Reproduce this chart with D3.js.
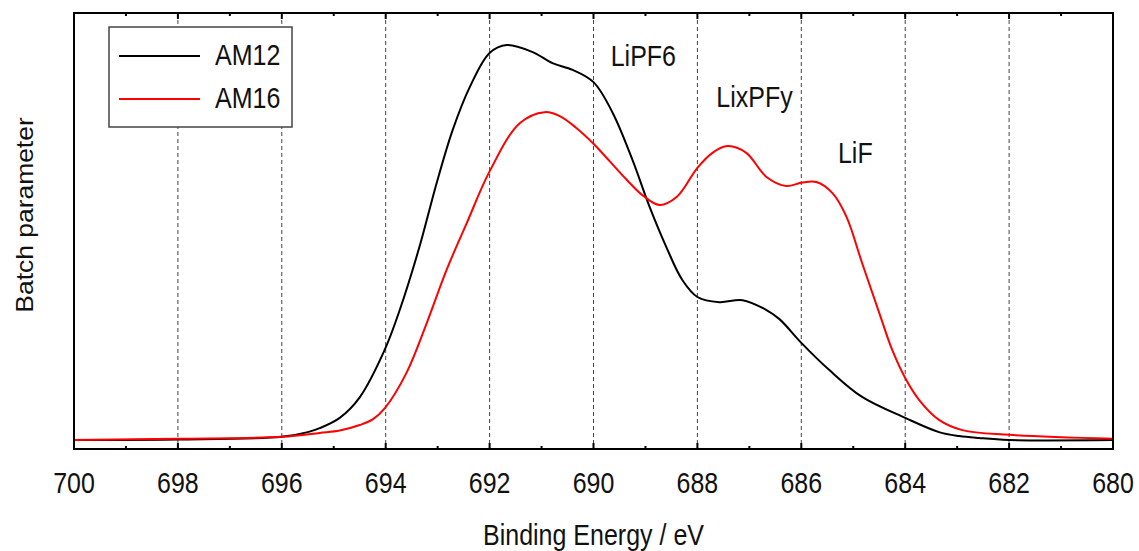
<!DOCTYPE html>
<html>
<head>
<meta charset="utf-8">
<script src="https://cdn.jsdelivr.net/npm/d3@7"></script>
<style>
  body { margin: 0; background: #fff; }
  text { font-family: "Liberation Sans", Arial, Helvetica, sans-serif; fill: #111; }
</style>
</head>
<body>
<svg id="chart" width="1139" height="551"></svg>
<script>
// F 1s spectra, binding energy (eV) vs. normalised intensity
const energyAM12 = [700, 698, 696, 695.5, 695.27, 694.885, 694.5, 694.02, 693.73, 693.35, 693.02, 692.71,
  692.38, 692, 691.67, 691.17, 690.79, 690.4, 690, 689.63, 689.25, 688.92, 688.6, 688.29, 688,
  687.58, 687.13, 686.67, 686.42, 686, 685.46, 684.83, 684, 683.35, 682.96, 682.58, 682, 680];
const intensityAM12 = [0, 0.001, 0.008, 0.020, 0.030, 0.056, 0.108, 0.228, 0.329, 0.489, 0.650, 0.785,
  0.894, 0.980, 1.0, 0.982, 0.954, 0.937, 0.906, 0.828, 0.709, 0.590, 0.489, 0.405, 0.362,
  0.349, 0.354, 0.329, 0.306, 0.246, 0.177, 0.109, 0.056, 0.020, 0.010, 0.005, 0, 0];

const energyAM16 = [700, 698, 696, 695.27, 694.885, 694.5, 694.25, 694.02, 693.6, 693.21, 692.83, 692.44, 692,
  691.42, 690.94, 690.65, 690.33, 690, 689.69, 689.37, 689.06, 688.73, 688.4, 688, 687.71,
  687.42, 687.06, 686.67, 686.29, 686, 685.71, 685.4, 685.13, 684.83, 684.5, 684.25, 684,
  683.73, 683.35, 682.9, 682, 680];
const intensityAM16 = [0, 0.003, 0.008, 0.018, 0.024, 0.038, 0.052, 0.080, 0.170, 0.296, 0.430, 0.549, 0.680,
  0.802, 0.830, 0.820, 0.790, 0.750, 0.706, 0.660, 0.620, 0.595, 0.615, 0.689, 0.727,
  0.744, 0.727, 0.666, 0.643, 0.651, 0.653, 0.625, 0.565, 0.448, 0.322, 0.228, 0.157,
  0.101, 0.051, 0.025, 0.013, 0.003];

const seriesNames = ["AM12", "AM16"];
const seriesColors = ["#000000", "#ff0000"];

const majorTicks = [700, 698, 696, 694, 692, 690, 688, 686, 684, 682, 680];
const minorTicks = [699, 697, 695, 693, 691, 689, 687, 685, 683, 681];
const gridTicks = [698, 696, 694, 692, 690, 688, 686, 684, 682];

const peakLabels = ["LiPF6", "LixPFy", "LiF"];
const peakLabelEnergy = [689.04, 686.9, 684.96];
const peakLabelLevel = [0.947, 0.843, 0.700];

const xTitle = "Binding Energy / eV";
const yTitle = "Batch parameter";

// layout
const plot = { left: 74, right: 1113, top: 13, bottom: 449 };
const stretch = 1.2;

const svg = d3.select("#chart");

const x = d3.scaleLinear().domain([700, 680]).range([plot.left, plot.right]);
const y = d3.scaleLinear().domain([-0.0228, 1.081]).range([plot.bottom, plot.top]);

// dashed vertical grid
svg.append("g").selectAll("line").data(gridTicks).join("line")
  .attr("x1", d => x(d)).attr("x2", d => x(d))
  .attr("y1", plot.top).attr("y2", plot.bottom)
  .attr("stroke", "#444").attr("stroke-width", 1)
  .attr("stroke-dasharray", "4,3");

// curves
const line = d3.line()
  .x(d => x(d[0])).y(d => y(d[1]))
  .curve(d3.curveCatmullRom.alpha(0.5));

const series = [
  d3.zip(energyAM12, intensityAM12),
  d3.zip(energyAM16, intensityAM16)
];

svg.append("g").selectAll("path").data(series).join("path")
  .attr("d", line)
  .attr("fill", "none")
  .attr("stroke", (d, i) => seriesColors[i])
  .attr("stroke-width", 2)
  .attr("stroke-linejoin", "round");

// frame
svg.append("rect")
  .attr("x", plot.left).attr("y", plot.top)
  .attr("width", plot.right - plot.left).attr("height", plot.bottom - plot.top)
  .attr("fill", "none").attr("stroke", "#000").attr("stroke-width", 2);

// inward ticks, bottom and top
const ticks = svg.append("g").attr("stroke", "#000").attr("stroke-width", 2);
majorTicks.forEach(v => {
  ticks.append("line").attr("x1", x(v)).attr("x2", x(v)).attr("y1", plot.bottom).attr("y2", plot.bottom - 6);
  ticks.append("line").attr("x1", x(v)).attr("x2", x(v)).attr("y1", plot.top).attr("y2", plot.top + 6);
});
minorTicks.forEach(v => {
  ticks.append("line").attr("x1", x(v)).attr("x2", x(v)).attr("y1", plot.bottom).attr("y2", plot.bottom - 3);
  ticks.append("line").attr("x1", x(v)).attr("x2", x(v)).attr("y1", plot.top).attr("y2", plot.top + 3);
});

function stretchedText(g, str, tx, ty, size, anchor) {
  return g.append("text")
    .attr("transform", `translate(${tx},${ty}) scale(1,${stretch})`)
    .attr("text-anchor", anchor || "middle")
    .attr("font-size", size)
    .text(str);
}

// tick labels
const labels = svg.append("g");
majorTicks.forEach(v => stretchedText(labels, d3.format("d")(v), x(v), 493, 25));

// axis titles
stretchedText(svg, xTitle, (plot.left + plot.right) / 2, 545, 25);
svg.append("text")
  .attr("transform", `translate(33,215) rotate(-90) scale(1.15,1)`)
  .attr("text-anchor", "middle")
  .attr("font-size", 23)
  .text(yTitle);

// peak annotations
peakLabels.forEach((t, i) => stretchedText(svg, t, x(peakLabelEnergy[i]), y(peakLabelLevel[i]), 25));

// legend
const legend = svg.append("g");
legend.append("rect")
  .attr("x", 109).attr("y", 27).attr("width", 183).attr("height", 100)
  .attr("fill", "#fff").attr("stroke", "#444").attr("stroke-width", 1.5);
seriesNames.forEach((name, i) => {
  const ly = 56 + i * 43;
  legend.append("line")
    .attr("x1", 119).attr("x2", 200).attr("y1", ly).attr("y2", ly)
    .attr("stroke", seriesColors[i]).attr("stroke-width", 2);
  stretchedText(legend, name, 215, ly + 9, 25, "start");
});
</script>
</body>
</html>
